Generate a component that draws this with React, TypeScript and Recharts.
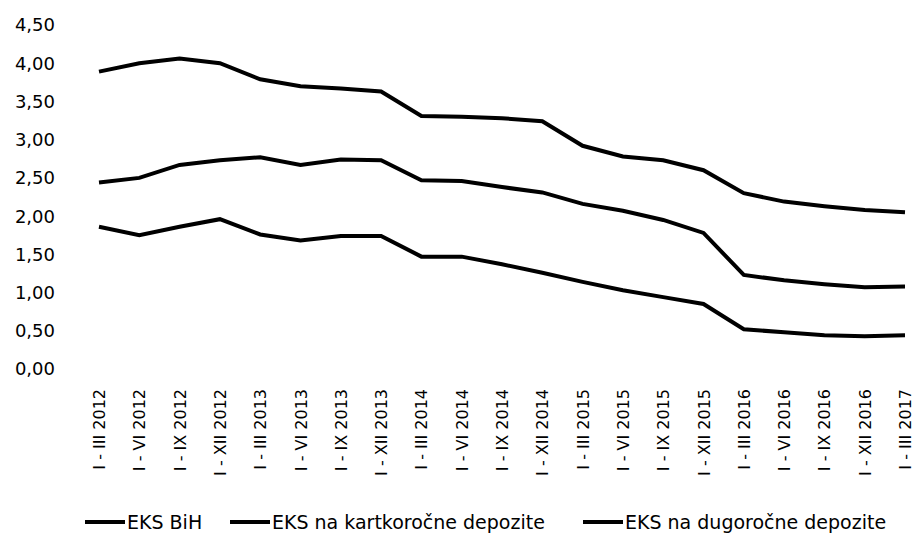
import React from "react";
import { LineChart, Line, XAxis, YAxis, Legend } from "recharts";

const periods = [
  "I - III 2012", "I - VI 2012", "I - IX 2012", "I - XII 2012",
  "I - III 2013", "I - VI 2013", "I - IX 2013", "I - XII 2013",
  "I - III 2014", "I - VI 2014", "I - IX 2014", "I - XII 2014",
  "I - III 2015", "I - VI 2015", "I - IX 2015", "I - XII 2015",
  "I - III 2016", "I - VI 2016", "I - IX 2016", "I - XII 2016",
  "I - III 2017",
];

const eksBih = [
  3.89, 4.0, 4.06, 4.0, 3.79, 3.7, 3.67, 3.63, 3.31, 3.3, 3.28,
  3.24, 2.92, 2.78, 2.73, 2.6, 2.3, 2.19, 2.13, 2.08, 2.05,
];
const eksKratko = [
  2.44, 2.5, 2.67, 2.73, 2.77, 2.67, 2.74, 2.73, 2.47, 2.46, 2.38,
  2.31, 2.16, 2.07, 1.95, 1.78, 1.23, 1.16, 1.11, 1.07, 1.08,
];
const eksDugo = [
  1.86, 1.75, 1.86, 1.96, 1.76, 1.68, 1.74, 1.74, 1.47, 1.47, 1.37,
  1.26, 1.14, 1.03, 0.94, 0.85, 0.52, 0.48, 0.44, 0.43, 0.44,
];

const yTicks = [0, 0.5, 1, 1.5, 2, 2.5, 3, 3.5, 4, 4.5];

const data = periods.map((p, i) => ({
  period: p,
  bih: eksBih[i],
  kratko: eksKratko[i],
  dugo: eksDugo[i],
}));

const FONT = "'DejaVu Sans', sans-serif";

// rotated category label, reads bottom-to-top
const PeriodTick = (props: any) => {
  const { x, y, payload } = props;
  return (
    <text
      x={x}
      y={y}
      transform={`rotate(-90 ${x} ${y})`}
      textAnchor="end"
      dy={6}
      dx={-12}
      fill="#000"
      fontSize={16}
      fontFamily={FONT}
    >
      {payload.value}
    </text>
  );
};

const legendItems = [
  { key: "bih", label: "EKS BiH", width: 145 },
  { key: "kratko", label: "EKS na kartkoročne depozite", width: 353 },
  { key: "dugo", label: "EKS na dugoročne depozite", width: 320 },
];

const LegendContent = () => (
  <div style={{ display: "flex", fontFamily: FONT, fontSize: 19, color: "#000" }}>
    {legendItems.map((it) => (
      <div key={it.key} style={{ display: "flex", alignItems: "center", width: it.width }}>
        <span style={{ display: "inline-block", width: 40, height: 4, background: "#000", marginRight: 2 }} />
        <span>{it.label}</span>
      </div>
    ))}
  </div>
);

export default function App() {
  return (
    <div style={{ position: "fixed", left: 0, top: 0, width: 917, height: 535, background: "#fff" }}>
      <LineChart
        width={917}
        height={535}
        data={data}
        margin={{ top: 25, right: 12, bottom: 24, left: 0 }}
      >
        <XAxis
          dataKey="period"
          axisLine={false}
          tickLine={false}
          interval={0}
          height={120}
          tick={<PeriodTick />}
        />
        <YAxis
          domain={[0, 4.5]}
          ticks={yTicks}
          width={99}
          axisLine={false}
          tickLine={false}
          tickMargin={38}
          tickFormatter={(v: number) => v.toFixed(2).replace(".", ",")}
          tick={{ fill: "#000", fontSize: 18, fontFamily: FONT }}
        />
        <Legend
          verticalAlign="bottom"
          content={<LegendContent />}
          wrapperStyle={{ left: 85, top: 511, bottom: "auto", width: 830 }}
        />
        <Line type="linear" dataKey="bih" name="EKS BiH" stroke="#000" strokeWidth={4} dot={false} isAnimationActive={false} />
        <Line type="linear" dataKey="kratko" name="EKS na kartkoročne depozite" stroke="#000" strokeWidth={4} dot={false} isAnimationActive={false} />
        <Line type="linear" dataKey="dugo" name="EKS na dugoročne depozite" stroke="#000" strokeWidth={4} dot={false} isAnimationActive={false} />
      </LineChart>
    </div>
  );
}
